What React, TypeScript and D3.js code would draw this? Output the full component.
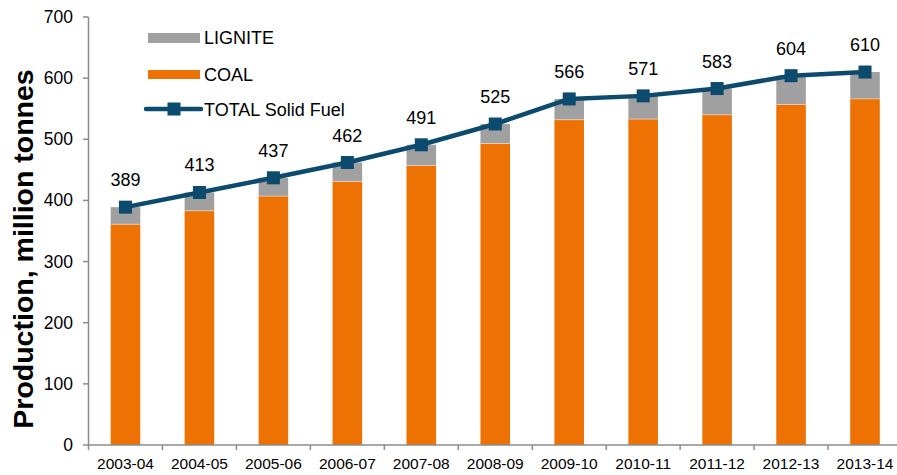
import React from "react";
import * as d3 from "d3";

const categories = ["2003-04","2004-05","2005-06","2006-07","2007-08","2008-09","2009-10","2010-11","2011-12","2012-13","2013-14"];
const coal = [361, 383, 407, 431, 457, 493, 532, 533, 540, 557, 566];
const lignite = [28, 30, 30, 31, 34, 32, 34, 38, 43, 47, 44];
const total = [389, 413, 437, 462, 491, 525, 566, 571, 583, 604, 610];
const yTicks = [0, 100, 200, 300, 400, 500, 600, 700];

const W = 897, H = 475;
const ORANGE = "#EE7203";
const GRAY = "#A0A0A0";
const NAVY = "#0C4A6E";
const AXIS = "#8C8C8C";
const FONT = "'Liberation Sans', Arial, sans-serif";

export default function App() {
  const y = d3.scaleLinear().domain([0, 700]).range([445, 17]);
  const x = d3.scaleBand<string>().domain(categories).range([88.5, 902]).paddingInner(0.6).paddingOuter(0.3);
  const step = x.step();
  const bw = x.bandwidth();
  const cx = (c: string) => (x(c) as number) + bw / 2;
  const line = d3.line<number>().x((_, i) => cx(categories[i])).y(d => y(d));

  return (
    <svg width={W} height={H} style={{ position: "absolute", left: 0, top: 0, background: "#fff" }} fontFamily={FONT}>
      {/* bars */}
      {categories.map((c, i) => (
        <g key={c}>
          <rect x={x(c)} y={y(coal[i])} width={bw} height={y(0) - y(coal[i])} fill={ORANGE} />
          <rect x={x(c)} y={y(coal[i] + lignite[i])} width={bw} height={y(coal[i]) - y(coal[i] + lignite[i])} fill={GRAY} />
          <line x1={x(c)} x2={(x(c) as number) + bw} y1={y(coal[i])} y2={y(coal[i])} stroke="#fff" strokeWidth={0.6} opacity={0.7} />
        </g>
      ))}
      {/* y axis */}
      <line x1={88.5} x2={88.5} y1={y(700)} y2={y(0)} stroke={AXIS} strokeWidth={1.5} />
      {yTicks.map(t => (
        <g key={t}>
          <line x1={83} x2={88.5} y1={y(t)} y2={y(t)} stroke={AXIS} strokeWidth={1.5} />
          <text x={73} y={y(t) + 6} textAnchor="end" fontSize={17.5} fill="#000">{t}</text>
        </g>
      ))}
      {/* x axis */}
      <line x1={88.5} x2={W} y1={y(0)} y2={y(0)} stroke={AXIS} strokeWidth={1.5} />
      {categories.map(c => (
        <g key={c}>
          <line x1={(x(c) as number) - step * 0.3} x2={(x(c) as number) - step * 0.3} y1={y(0)} y2={y(0) + 5} stroke={AXIS} strokeWidth={1.5} />
          <text x={cx(c)} y={468.5} textAnchor="middle" fontSize={15.5} fill="#000">{c}</text>
        </g>
      ))}
      {/* total line */}
      <path d={line(total) || ""} fill="none" stroke={NAVY} strokeWidth={4.5} strokeLinejoin="round" />
      {categories.map((c, i) => (
        <g key={c}>
          <rect x={cx(c) - 6.5} y={y(total[i]) - 6.5} width={13} height={13} fill={NAVY} />
          <text x={cx(c)} y={y(total[i]) - 21} textAnchor="middle" fontSize={18} fill="#000">{total[i]}</text>
        </g>
      ))}
      {/* y label */}
      <text transform={`translate(33,249) rotate(-90)`} textAnchor="middle" fontSize={28.5} fontWeight="bold" fill="#000">Production, million tonnes</text>
      {/* legend */}
      <rect x={148} y={33} width={52} height={10} fill={GRAY} />
      <text x={204} y={44} fontSize={18} fill="#000">LIGNITE</text>
      <rect x={148} y={70} width={52} height={9} fill={ORANGE} />
      <text x={204} y={80.5} fontSize={18} fill="#000">COAL</text>
      <line x1={146} x2={201} y1={109} y2={109} stroke={NAVY} strokeWidth={4.5} strokeLinecap="round" />
      <rect x={167.5} y={102.5} width={13} height={13} fill={NAVY} />
      <text x={204} y={116} fontSize={18} fill="#000">TOTAL Solid Fuel</text>
    </svg>
  );
}
